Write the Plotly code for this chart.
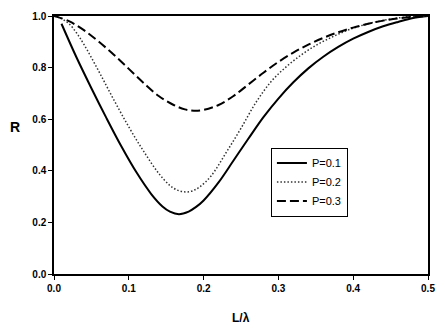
import plotly.graph_objects as go

# P = 0.1 (solid)
x_p1 = [0.01, 0.03, 0.05, 0.07, 0.09, 0.11, 0.13, 0.145, 0.155, 0.167, 0.18, 0.19, 0.20,
        0.22, 0.24, 0.26, 0.28, 0.30, 0.32, 0.34, 0.36, 0.38, 0.40, 0.42, 0.44, 0.46, 0.48, 0.50]
r_p1 = [0.97, 0.84, 0.72, 0.605, 0.495, 0.395, 0.31, 0.262, 0.242, 0.232, 0.242, 0.26, 0.285,
        0.355, 0.44, 0.525, 0.608, 0.68, 0.743, 0.797, 0.842, 0.88, 0.912, 0.938, 0.96, 0.977, 0.992, 1.0]

# P = 0.2 (dotted)
x_p2 = [0.0, 0.01, 0.02, 0.03, 0.04, 0.06, 0.08, 0.10, 0.12, 0.14, 0.155, 0.165, 0.176, 0.185,
        0.195, 0.21, 0.23, 0.25, 0.27, 0.29, 0.31, 0.33, 0.35, 0.37, 0.39, 0.41, 0.43, 0.45, 0.47, 0.49, 0.50]
r_p2 = [1.0, 0.99, 0.97, 0.935, 0.89, 0.785, 0.675, 0.57, 0.475, 0.39, 0.343, 0.325, 0.318, 0.322,
        0.338, 0.38, 0.47, 0.565, 0.665, 0.745, 0.802, 0.848, 0.886, 0.916, 0.942, 0.962, 0.977, 0.988, 0.996, 1.0, 1.0]

# P = 0.3 (dashed)
x_p3 = [0.0, 0.02, 0.04, 0.06, 0.08, 0.10, 0.12, 0.14, 0.16, 0.175, 0.187, 0.20, 0.22, 0.24,
        0.26, 0.28, 0.30, 0.32, 0.34, 0.36, 0.38, 0.40, 0.42, 0.44, 0.46, 0.48, 0.50]
r_p3 = [1.0, 0.98, 0.945, 0.9, 0.85, 0.795, 0.74, 0.69, 0.655, 0.638, 0.633, 0.636, 0.655, 0.69,
        0.735, 0.78, 0.822, 0.858, 0.889, 0.915, 0.937, 0.955, 0.97, 0.982, 0.991, 0.997, 1.0]

x_ticks = [0.0, 0.1, 0.2, 0.3, 0.4, 0.5]
y_ticks = [0.0, 0.2, 0.4, 0.6, 0.8, 1.0]

fig = go.Figure()
fig.add_trace(go.Scatter(x=x_p1, y=r_p1, mode="lines", name="P=0.1",
                         line=dict(color="black", width=2, shape="spline", smoothing=1)))
fig.add_trace(go.Scatter(x=x_p2, y=r_p2, mode="lines", name="P=0.2",
                         line=dict(color="#333", width=1.5, dash="1.5px,2px", shape="spline", smoothing=1)))
fig.add_trace(go.Scatter(x=x_p3, y=r_p3, mode="lines", name="P=0.3",
                         line=dict(color="black", width=2, dash="9px,4px", shape="spline", smoothing=1)))

fnt = "Liberation Sans, Arial, sans-serif"
axis_common = dict(showline=True, linecolor="black", linewidth=1.5, mirror=True,
                   showgrid=False, zeroline=False, ticks="outside", ticklen=4,
                   tickcolor="black", tickwidth=1,
                   tickfont=dict(family=fnt, size=10, color="black"))
fig.update_xaxes(range=[0, 0.5], tickvals=x_ticks,
                 ticktext=[f"<b>{v:.1f}</b>" for v in x_ticks], **axis_common)
fig.update_yaxes(range=[0, 1.0], tickvals=y_ticks,
                 ticktext=[f"<b>{v:.1f}</b>" for v in y_ticks], **axis_common)

fig.add_annotation(text="<b>L/λ</b>", xref="paper", yref="paper", x=0.5, y=-0.17,
                   xanchor="center", yanchor="middle", showarrow=False,
                   font=dict(family=fnt, size=12, color="black"))
fig.add_annotation(text="<b>R</b>", xref="paper", yref="paper", x=-0.085, y=0.57,
                   xanchor="right", yanchor="middle", showarrow=False,
                   font=dict(family=fnt, size=14, color="black"))

fig.update_layout(
    width=445, height=330,
    margin=dict(l=54, r=14, t=10, b=56),
    paper_bgcolor="white", plot_bgcolor="white",
    showlegend=True,
    legend=dict(x=0.58, y=0.49, xanchor="left", yanchor="top",
                bgcolor="white", bordercolor="black", borderwidth=1,
                font=dict(family=fnt, size=11, color="black"),
                tracegroupgap=0, itemwidth=30),
)

fig.write_html("out.html")
